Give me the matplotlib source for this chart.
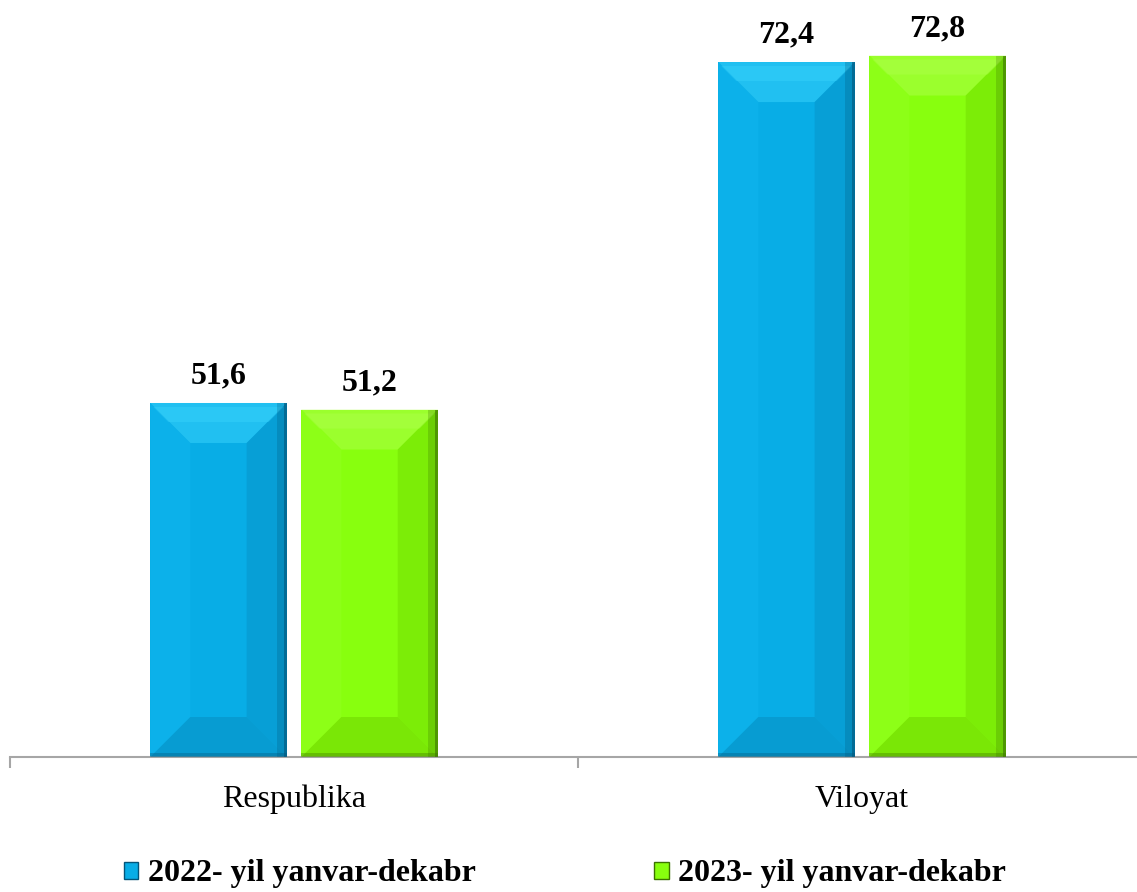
import matplotlib
matplotlib.use("Agg")
import matplotlib.pyplot as plt
import matplotlib.patches as mpatches
from matplotlib.transforms import IdentityTransform
import numpy as np

categories = ["Respublika", "Viloyat"]
series_names = ["2022- yil yanvar-dekabr", "2023- yil yanvar-dekabr"]
values_2022 = [51.6, 72.4]
values_2023 = [51.2, 72.8]

# face, top bevel, left bevel, right bevel, bottom bevel, edge
BLUE = ["#08ADE6", "#40D8FF", "#10B6EE", "#068FC4", "#078FC2", "#03557A"]
GREEN = ["#88FF0E", "#B4FF55", "#92FF20", "#6ED800", "#70D400", "#3C7300"]

plt.rcParams["font.family"] = ["Liberation Serif", "DejaVu Serif"]

fig = plt.figure(figsize=(11.37, 8.92), dpi=100)
ax = fig.add_axes([10 / 1137, 135 / 892, 1136 / 1137, 757 / 892])

x = np.arange(len(categories))
width = 0.24
offset = 0.133
bars_a = ax.bar(x - offset, values_2022, width, color=BLUE[0], zorder=2)
bars_b = ax.bar(x + offset, values_2023, width, color=GREEN[0], zorder=2)

ax.set_xlim(-0.5, 1.5)
ax.set_ylim(30, 30 + 757 / 16.39)
fig.canvas.draw()


def add_px_patch(patch):
    patch.set_transform(IdentityTransform())
    patch.set_zorder(3)
    fig.add_artist(patch)


def bevel(bar, cols, size=40):
    """Overlay soft bevel facets on a bar, in pixel space."""
    (x0, y0), (x1, y1) = ax.transData.transform(
        [(bar.get_x(), ax.get_ylim()[0]), (bar.get_x() + bar.get_width(), bar.get_height())]
    )
    s = min(size, (x1 - x0) / 2)
    facets = [
        ([(x0, y1), (x1, y1), (x1 - s, y1 - s), (x0 + s, y1 - s)], cols[1], 0.45),
        ([(x0, y1), (x0 + s, y1 - s), (x0 + s, y0 + s), (x0, y0)], cols[2], 0.5),
        ([(x1, y1), (x1 - s, y1 - s), (x1 - s, y0 + s), (x1, y0)], cols[3], 0.45),
        ([(x0, y0), (x0 + s, y0 + s), (x1 - s, y0 + s), (x1, y0)], cols[4], 0.55),
    ]
    for pts, c, a in facets:
        add_px_patch(mpatches.Polygon(pts, closed=True, facecolor=c, edgecolor="none", alpha=a))
    # soft highlight along the top, dark rims on right and bottom
    add_px_patch(mpatches.Polygon([(x0 + 3, y1 - 4), (x1 - 3, y1 - 4), (x1 - 18, y1 - 19),
                                   (x0 + 18, y1 - 19)], facecolor=cols[1], edgecolor="none", alpha=0.35))
    add_px_patch(mpatches.Rectangle((x1 - 10, y0), 10, y1 - y0, facecolor=cols[5],
                                    edgecolor="none", alpha=0.25))
    add_px_patch(mpatches.Rectangle((x1 - 3, y0), 3, y1 - y0, facecolor=cols[5],
                                    edgecolor="none", alpha=0.6))
    add_px_patch(mpatches.Rectangle((x0, y0), x1 - x0, 4, facecolor=cols[5],
                                    edgecolor="none", alpha=0.35))


for bars, cols in ((bars_a, BLUE), (bars_b, GREEN)):
    for b in bars:
        bevel(b, cols)
        ax.annotate(f"{b.get_height():.1f}".replace(".", ","),
                    (b.get_x() + b.get_width() / 2, b.get_height()),
                    xytext=(0, 9), textcoords="offset points",
                    ha="center", va="bottom", fontsize=23, fontweight="bold")

for side in ("top", "right", "left"):
    ax.spines[side].set_visible(False)
ax.spines["bottom"].set_color("#A6A6A6")
ax.spines["bottom"].set_linewidth(1.5)
ax.set_yticks([])
ax.set_xticks(x)
ax.set_xticklabels(categories, fontsize=23)
ax.tick_params(axis="x", which="major", length=0, pad=20)
ax.set_xticks([-0.5, 0.5, 1.5], minor=True)
ax.tick_params(axis="x", which="minor", length=8, width=1.5, color="#A6A6A6")

handles = [mpatches.Patch(facecolor=BLUE[0], edgecolor=BLUE[5], linewidth=1, label=series_names[0]),
           mpatches.Patch(facecolor=GREEN[0], edgecolor=GREEN[5], linewidth=1, label=series_names[1])]
fig.legend(handles=handles, loc="center", bbox_to_anchor=(565 / 1137, 18 / 892), ncol=2,
           frameon=False, prop={"size": 23, "weight": "bold"},
           handlelength=0.45, handleheight=0.45, handletextpad=0.3, columnspacing=5.6,
           borderpad=0)

fig.savefig("out.png", dpi=100)
